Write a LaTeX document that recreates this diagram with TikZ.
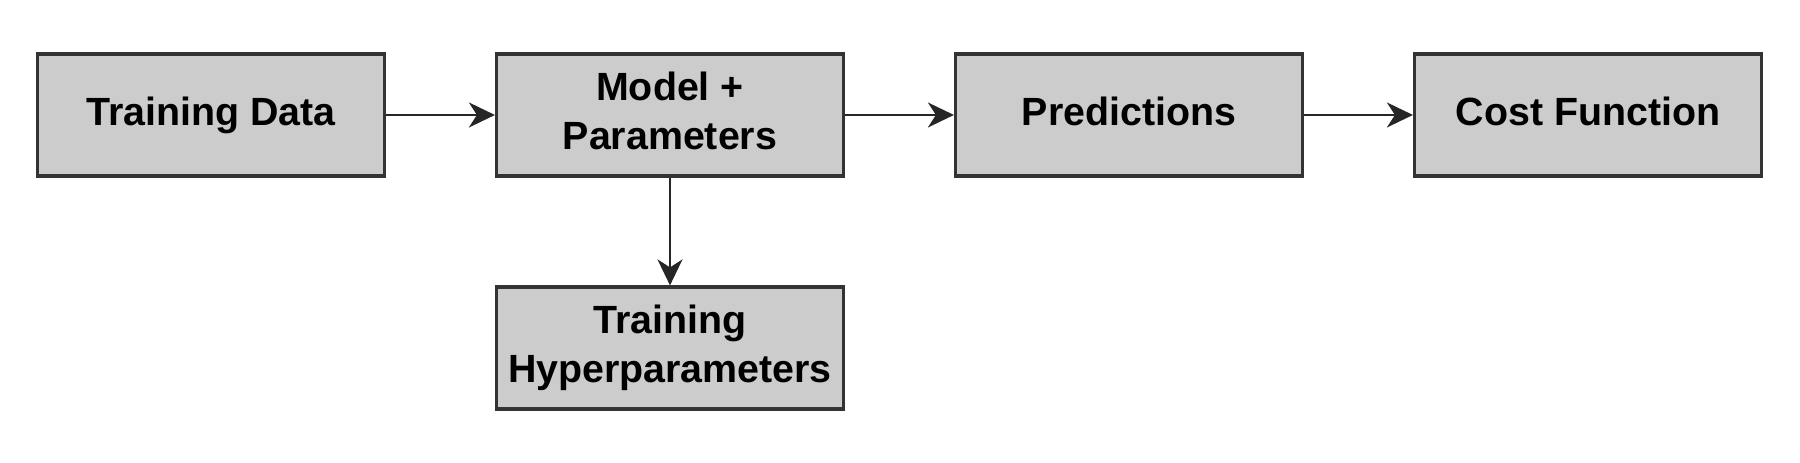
\documentclass[tikz,border=0pt]{standalone}
\usepackage{fontspec}
\setmainfont{Liberation Sans}
\usepackage{tikz}
\usetikzlibrary{arrows.meta}

\begin{document}
\begin{tikzpicture}[->, >={Stealth[length=2.6mm, width=2.5mm, inset=0.8mm]}, node distance=4.59cm, line width=0.65pt,
	main node/.style={rectangle, fill=black!20, draw=black!80, line width=0.9pt, minimum width=3.47cm, minimum height=1.22cm, inner sep=0pt, align=center, font=\fontsize{11.2}{13.8}\selectfont\bfseries, execute at begin node=\vphantom{g}}]

			\useasboundingbox (-2.11,1.15) rectangle (15.89,-3.48);

			\node[main node] (1) {Training Data};
			\node[main node] (2) [right of=1] {Model +\\Parameters};
			\node[main node] (3) [right of=2] {Predictions};
			\node[main node] (4) [right of=3] {Cost Function};

			\node[main node] (5) [below of=2, node distance=2.33cm] {Training\\Hyperparameters};

			% main pipeline
			\draw[black!85] (1) -- (2);
			\draw[black!85] (2) -- (3);
			\draw[black!85] (3) -- (4);

			% hyperparameters
			\draw[black!85] (2) -- (5);

		\end{tikzpicture}
\end{document}
